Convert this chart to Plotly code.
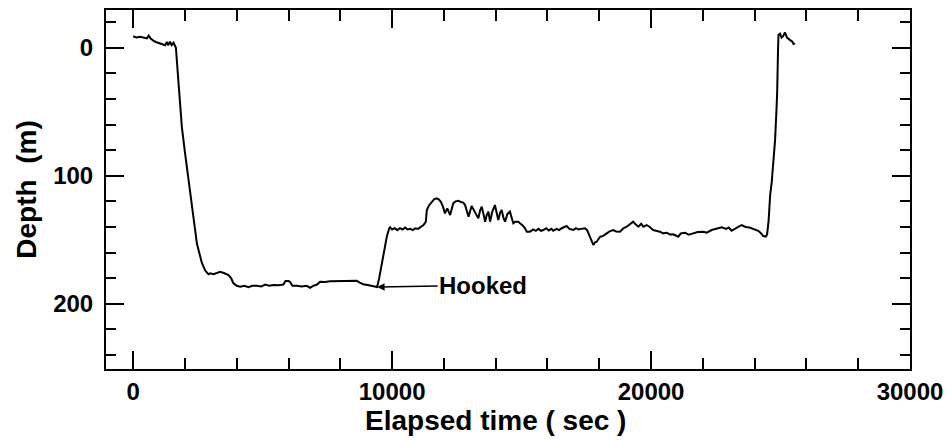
import plotly.graph_objects as go

# Elapsed time (s) and depth (m)
time_s = [0, 120, 270, 400, 530, 600, 680, 850, 950, 1040, 1150, 1235, 1300, 1360, 1420, 1490, 1560, 1620,
          1650, 1760, 1880, 2000, 2130, 2300, 2460, 2650, 2780, 2910, 2970,
          3100, 3200, 3360, 3500, 3680, 3780, 3870, 4000, 4130, 4300, 4450, 4600, 4770, 4950, 5100, 5250, 5420,
          5600, 5800, 5880, 6000, 6060, 6150, 6320, 6500, 6700, 6830, 6950, 7100, 7220, 7400, 7600, 7800, 8000,
          8200, 8400, 8630, 8750, 8890, 9100, 9340, 9420,
          9500, 9600, 9700, 9800, 9890,
          9920, 10000, 10100, 10200, 10300, 10400, 10500, 10600, 10700, 10800, 10900, 11000, 11100, 11210,
          11300, 11340, 11430, 11530, 11620, 11720, 11800, 11880, 11960, 12040, 12130, 12240, 12300, 12360,
          12450, 12560, 12650, 12750, 12820, 12880, 12950, 13070, 13130, 13200, 13260, 13330, 13400, 13460,
          13530, 13590, 13650, 13720, 13780, 13870, 13970, 14030, 14100, 14170, 14230, 14300, 14360, 14450,
          14550, 14620, 14680, 14750, 14870, 14940, 15050, 15130, 15200, 15320, 15450, 15550, 15650, 15750,
          15840, 15950, 16050, 16150, 16220, 16350, 16450, 16550, 16650, 16740, 16850, 17000, 17100, 17200,
          17300, 17450, 17530, 17580, 17680, 17770, 17840, 17900, 18030, 18150, 18290, 18400, 18540, 18650,
          18800, 18930, 19060, 19200, 19310, 19400, 19510, 19620, 19700, 19830, 19950, 20080, 20200, 20340,
          20470, 20600, 20750, 20860, 21050, 21150, 21310, 21450, 21630, 21800, 22020, 22150, 22340, 22500,
          22730, 22900, 23000, 23110, 23250, 23400, 23500, 23650, 23800, 23880, 24000, 24140, 24250, 24330,
          24430, 24480, 24540, 24600, 24660, 24730, 24790, 24840, 24870, 24900, 24920, 24980, 25040, 25100,
          25170, 25250, 25300, 25370, 25450, 25500, 25560]
depth_m = [-9, -8, -8.6, -8, -7.3, -9.5, -7, -4.7, -4, -2.9, -2, -2, -4.5, -2, -4.7, -2, -3.9, -1,
           0, 30, 62, 82, 101, 129, 153, 168, 174, 177, 176.3,
           177, 176, 175, 176, 177.6, 180, 184, 186, 186.7, 186, 187, 186, 185.9, 186.5, 185, 186, 185.4,
           185.5, 185, 182.3, 182.3, 183, 186, 186, 186.5, 186, 187.5, 186, 185, 182.8, 183, 182.5, 182.5, 182.3,
           182.5, 182, 182, 183.5, 184.8, 185.5, 186.7, 187,
           180, 168, 157, 147, 141,
           140.3, 142, 141, 142.5, 141, 142, 140.5, 142, 141.5, 142.5, 141, 141.5, 140, 138.5,
           136, 126.8, 123, 120.3, 118.5, 117.7, 118.5, 120.3, 124, 129.4, 125.5, 130.7, 125, 121.6,
           120, 119.5, 120.5, 121, 123, 126.8, 132, 123.7, 126, 128, 130, 133.3, 127, 124.2,
           130, 135.9, 131, 128, 135.9, 128, 122.9, 128, 134.6, 129, 126.8, 133, 135.9, 130,
           128, 133, 137.2, 136, 135.9, 137.2, 139, 141.1, 143.7, 143.7, 141.9, 143, 141.5, 143,
           142.4, 141, 142.8, 141.5, 143, 141.5, 142.5, 141, 140, 139.3, 141.5, 142.4, 141, 142,
           141.5, 141.1, 142.5, 145, 150, 154.1, 152, 151.6, 147.7, 147, 145, 143.5, 142.4, 143.5,
           143.7, 141, 139.8, 137.5, 135.9, 138, 139.8, 137.5, 139.8, 138.5, 140, 142.4, 143, 143.7,
           145, 144.5, 146, 145.8, 147.6, 145, 144.5, 146, 145, 144, 143.7, 144.5, 142.4, 141.5,
           140.3, 141.5, 140.5, 143, 141, 139.5, 138.5, 140, 140.5, 141.1, 142, 143, 145, 147.1,
           147.6, 146, 135, 115, 105, 90, 72, 50, 35, 5, -10, -11, -8, -9,
           -12, -8, -7, -6, -5, -3, -3.4]

x_tick_vals = [0, 10000, 20000, 30000]
x_tick_text = ["0", "10000", "20000", "30000"]
y_tick_vals = [0, 100, 200]
y_tick_text = ["0", "100", "200"]

hook_time = 9420
hook_depth = 187
hook_label = "Hooked"
x_title = "Elapsed time ( sec )"
y_title = "Depth  (m)"

FONT = "Liberation Sans, Arial, Helvetica, sans-serif"

fig = go.Figure()
fig.add_trace(go.Scatter(x=time_s, y=depth_m, mode="lines",
                         line=dict(color="black", width=2), showlegend=False))

fig.add_annotation(x=hook_time, y=hook_depth, text=hook_label, showarrow=True,
                   ax=106, ay=-2, arrowhead=2, arrowsize=1, arrowwidth=1.5, arrowcolor="black",
                   font=dict(family=FONT, size=24, color="black", weight="bold"))

# x-axis title placed slightly left of centre, as in the reference
fig.add_annotation(xref="paper", yref="paper", x=0.484, y=0, xanchor="center", yanchor="middle",
                   yshift=-51, showarrow=False, text=x_title,
                   font=dict(family=FONT, size=28, color="black", weight="bold"))

axis_common = dict(showline=True, linecolor="black", linewidth=2, mirror="ticks",
                   ticks="inside", ticklen=18, tickwidth=2, tickcolor="black",
                   showgrid=False, zeroline=False,
                   tickfont=dict(family=FONT, size=24, color="black", weight="bold"))

fig.update_xaxes(range=[-1050, 30000], tickmode="array", tickvals=x_tick_vals, ticktext=x_tick_text,
                 minor=dict(dtick=2000, tick0=0, ticklen=11, tickwidth=2, tickcolor="black", ticks="inside"),
                 ticklabelstandoff=0,
                 **axis_common)
fig.update_yaxes(range=[251, -29.5], tickmode="array", tickvals=y_tick_vals, ticktext=y_tick_text,
                 minor=dict(dtick=20, tick0=0, ticklen=10, tickwidth=2, tickcolor="black", ticks="inside"),
                 title=dict(text=y_title, standoff=8,
                            font=dict(family=FONT, size=28, color="black", weight="bold")),
                 ticklabelstandoff=6,
                 **axis_common)

fig.update_layout(width=952, height=441, margin=dict(l=106, r=42, t=10, b=72, autoexpand=False),
                  paper_bgcolor="white", plot_bgcolor="white")

fig.write_html("out.html")
